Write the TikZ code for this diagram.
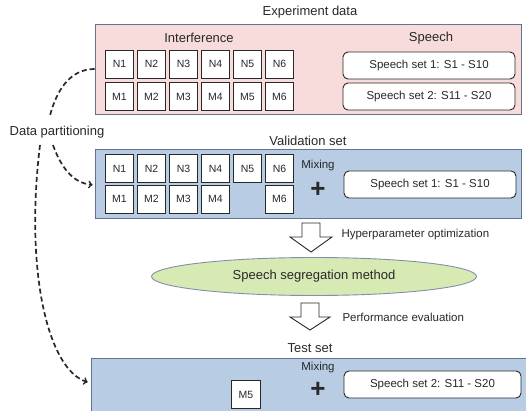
\documentclass[tikz,border=0pt]{standalone}
\usepackage{fontspec}
\setmainfont{Liberation Sans}
\usetikzlibrary{shapes.geometric}
\definecolor{pinkbg}{RGB}{248,219,219}
\definecolor{bluebg}{RGB}{184,204,228}
\definecolor{greenbg}{RGB}{215,234,180}
\definecolor{framecol}{RGB}{100,115,145}
\definecolor{ink}{RGB}{40,40,40}
\begin{document}
\begin{tikzpicture}[x=1pt, y=-1pt,
        every node/.style={text=ink},
        panel/.style={draw=framecol, line width=0.8pt, minimum width=426pt, inner sep=0pt},
        title/.style={font=\fontsize{13}{15}\selectfont},
        note/.style={font=\fontsize{11.5}{13}\selectfont},
        cell/.style={draw=ink, fill=white, line width=0.9pt, minimum width=28.5pt, minimum height=28pt, inner sep=0pt, font=\fontsize{10.5}{12}\selectfont},
        setbox/.style={draw=ink, fill=white, rounded corners=5pt, line width=0.9pt, minimum width=172pt, minimum height=27pt, inner sep=0pt, font=\fontsize{11.5}{13}\selectfont},
        plussign/.style={font=\fontsize{26}{26}\selectfont\bfseries, inner sep=0pt},
        hollow/.style={draw=ink, fill=white, line width=0.9pt, line join=miter},
        partition/.style={draw=ink, line width=1.7pt, dash pattern=on 5pt off 3pt}]
    \useasboundingbox (0,0) rectangle (526,411);
    % experiment data
    \node[panel, fill=pinkbg, minimum height=90pt] (expt) at (308,69) {};
    \node[title] (expttitle) at (310,12) {Experiment data};
    \node[title] (interf) at (199,38) {Interference};
    \node[title] (speech) at (431,38) {Speech};
    \foreach \i/\x in {1/119.5,2/151.5,3/183.5,4/215.5,5/247.5,6/279.5} {
        \node[cell] (n\i) at (\x,64) {N\i};
        \node[cell] (m\i) at (\x,96.5) {M\i};
    }
    \node[setbox] (set1) at (429,65.5) {Speech set 1: S1 - S10};
    \node[setbox] (set2) at (429,96.5) {Speech set 2: S11 - S20};
    % validation set
    \node[panel, fill=bluebg, minimum height=69pt] (valid) at (308,183.5) {};
    \node[title] (validtitle) at (308,141) {Validation set};
    \foreach \i/\x in {1/119.5,2/151.5,3/183.5,4/215.5,5/247.5,6/279.5}
        \node[cell] (vn\i) at (\x,168.5) {N\i};
    \foreach \i/\x in {1/119.5,2/151.5,3/183.5,4/215.5,6/279.5}
        \node[cell] (vm\i) at (\x,199) {M\i};
    \node[note] (vmix) at (318,166) {Mixing};
    \node[plussign] (vplus) at (318,190) {+};
    \node[setbox] (vset1) at (430,184.5) {Speech set 1: S1 - S10};
    % method
    \draw[hollow] (302,223) -- ++(18,0) -- ++(0,14) -- ++(12,0) -- ++(-21,15) -- ++(-21,-15) -- ++(12,0) -- cycle;
    \node[note, anchor=west] (hyper) at (338,235) {Hyperparameter optimization};
    \node[ellipse, draw=framecol!80, fill=greenbg, line width=0.9pt, minimum width=325pt, minimum height=38pt, inner sep=0pt, font=\fontsize{13}{15}\selectfont] (method) at (314,276.5) {Speech segregation method};
    \draw[hollow] (301,303) -- ++(18,0) -- ++(0,14) -- ++(11,0) -- ++(-20,13) -- ++(-20,-13) -- ++(11,0) -- cycle;
    \node[note, anchor=west] (perf) at (339,317) {Performance evaluation};
    % test set
    \node[panel, fill=bluebg, minimum width=436pt, minimum height=62pt] (test) at (309,389) {};
    \node[title] (testtitle) at (310,348) {Test set};
    \node[cell] (tm5) at (246,394.5) {M5};
    \node[note] (tmix) at (318,368) {Mixing};
    \node[plussign] (tplus) at (318,390) {+};
    \node[setbox, minimum width=177pt] (tset2) at (432.5,384.5) {Speech set 2: S11 - S20};
    % partitioning
    \node[title] (part) at (57,132) {Data partitioning};
    \draw[partition] (expt.west) to[out=180, in=75] ([shift={(-7pt,7pt)}]part.north);
    \draw[partition, ->, shorten >=2pt] ([shift={(-4pt,-3.5pt)}]part.south) to[out=-70, in=175] ([yshift=-1.5pt]valid.west);
    \draw[partition, ->, shorten >=3pt] ([shift={(-17pt,-3.5pt)}]part.south) to[out=-97, in=163, out distance=126pt, in distance=45pt] ([yshift=6pt]test.west);
\end{tikzpicture}
\end{document}
